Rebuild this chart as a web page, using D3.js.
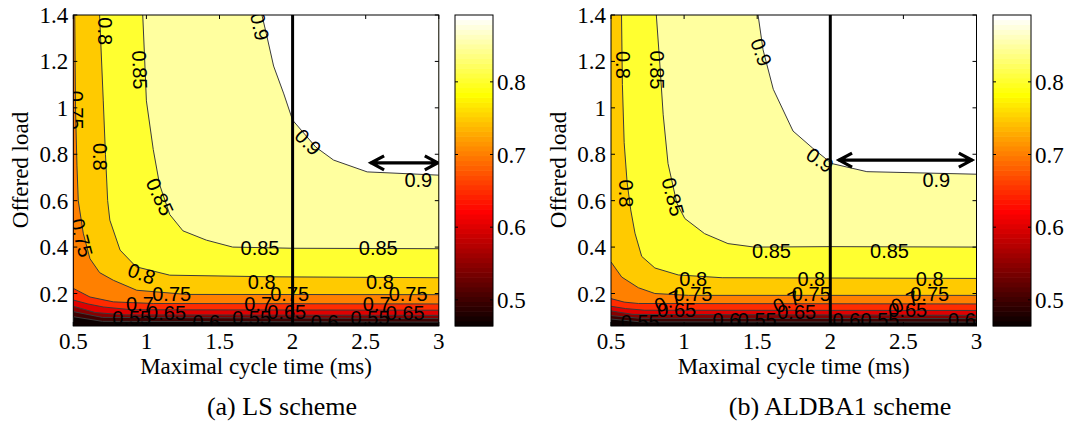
<!DOCTYPE html>
<html>
<head>
<meta charset="utf-8">
<script src="https://cdn.jsdelivr.net/npm/d3@7"></script>
<style>
  body { margin: 0; background: #fff; }
</style>
</head>
<body>
<svg id="chart" width="1069" height="425"></svg>
<script>
const xTicks = [0.5, 1, 1.5, 2, 2.5, 3];
const yTicks = [0.2, 0.4, 0.6, 0.8, 1, 1.2, 1.4];
const barTicks = [0.5, 0.6, 0.7, 0.8];
const levels = [0.5, 0.55, 0.6, 0.65, 0.7, 0.75, 0.8, 0.85, 0.9];
const colorRange = [0.464, 0.892];

// LS scheme: contour lines, [cycle time, offered load]
const ls50 = [[0.5, 0.1], [0.7, 0.08], [3, 0.077]];
const ls55 = [[0.5, 0.122], [0.7, 0.097], [3, 0.092]];
const ls60 = [[0.5, 0.145], [0.65, 0.118], [0.85, 0.108], [3, 0.106]];
const ls65 = [[0.5, 0.172], [0.6, 0.155], [0.705, 0.142], [0.9, 0.13], [3, 0.128]];
const ls70 = [[0.5, 0.222], [0.614, 0.185], [0.774, 0.164], [1.047, 0.157], [3, 0.155]];
const ls75 = [[0.51, 1.4], [0.515, 1.0], [0.525, 0.75], [0.534, 0.6], [0.568, 0.46], [0.614, 0.35],
  [0.68, 0.29], [0.774, 0.257], [0.934, 0.214], [1.276, 0.196], [3, 0.195]];
const ls80 = [[0.68, 1.4], [0.705, 1.03], [0.72, 0.8], [0.735, 0.6], [0.75, 0.516], [0.82, 0.387],
  [0.93, 0.315], [1.16, 0.279], [1.85, 0.272], [3, 0.268]];
const ls85 = [[0.975, 1.4], [0.99, 1.18], [1.0, 1.03], [1.047, 0.82], [1.09, 0.67], [1.16, 0.54],
  [1.25, 0.47], [1.41, 0.43], [1.59, 0.4], [2, 0.395], [3, 0.393]];
const ls90 = [[1.79, 1.4], [1.82, 1.32], [1.87, 1.18], [1.94, 1.06], [2.0, 0.947], [2.16, 0.83],
  [2.28, 0.775], [2.51, 0.724], [3, 0.71]];
const lsLines = [ls50, ls55, ls60, ls65, ls70, ls75, ls80, ls85, ls90];

// ALDBA1 scheme
const al50 = [[0.5, 0.09], [0.7, 0.078], [3, 0.077]];
const al55 = [[0.5, 0.105], [0.7, 0.093], [3, 0.092]];
const al60 = [[0.5, 0.125], [0.65, 0.11], [3, 0.106]];
const al65 = [[0.5, 0.145], [0.6, 0.135], [0.73, 0.128], [3, 0.127]];
const al70 = [[0.5, 0.178], [0.59, 0.163], [0.687, 0.157], [3, 0.155]];
const al75 = [[0.5, 0.336], [0.573, 0.271], [0.687, 0.225], [0.8, 0.2], [1.03, 0.192], [3, 0.192]];
const al80 = [[0.572, 1.4], [0.578, 1.1], [0.59, 0.85], [0.61, 0.68], [0.635, 0.56], [0.664, 0.46],
  [0.71, 0.36], [0.8, 0.31], [0.96, 0.28], [1.26, 0.268], [3, 0.265]];
const al85 = [[0.81, 1.4], [0.835, 1.18], [0.857, 0.97], [0.89, 0.76], [0.95, 0.59], [1.005, 0.523],
  [1.14, 0.458], [1.3, 0.415], [1.48, 0.4], [2, 0.402], [3, 0.4]];
const al90 = [[1.506, 1.4], [1.54, 1.25], [1.61, 1.08], [1.745, 0.9], [1.88, 0.826], [2.01, 0.76],
  [2.25, 0.725], [3, 0.714]];
const alLines = [al50, al55, al60, al65, al70, al75, al80, al85, al90];

// contour labels: text, x, y, rotation
const lsLabels = [
  ['0.8', 0.717, 1.33, 90], ['0.85', 0.956, 1.163, 88], ['0.9', 1.777, 1.35, 78],
  ['0.75', 0.518, 0.99, 90], ['0.9', 2.107, 0.853, 45], ['0.8', 0.683, 0.789, 90],
  ['0.85', 1.093, 0.617, 65], ['0.9', 2.86, 0.69, 0], ['0.75', 0.557, 0.44, 75],
  ['0.85', 1.777, 0.397, 0], ['0.85', 2.586, 0.397, 0], ['0.8', 0.968, 0.286, 20],
  ['0.8', 1.789, 0.25, 0], ['0.8', 2.598, 0.25, 0], ['0.75', 1.173, 0.2, 0],
  ['0.75', 1.98, 0.2, 0], ['0.75', 2.79, 0.2, 0], ['0.7', 0.956, 0.154, 0],
  ['0.7', 1.765, 0.154, 0], ['0.7', 2.575, 0.154, 0], ['0.65', 1.138, 0.118, 0],
  ['0.65', 1.96, 0.12, 0], ['0.65', 2.77, 0.118, 0], ['0.6', 1.41, 0.08, 0],
  ['0.6', 2.22, 0.08, 0], ['0.55', 0.9, 0.095, 0], ['0.55', 1.72, 0.095, 0],
  ['0.55', 2.53, 0.095, 0]
];
const alLabels = [
  ['0.8', 0.584, 1.185, 90], ['0.85', 0.816, 1.163, 90], ['0.9', 1.529, 1.24, 70],
  ['0.9', 1.93, 0.775, 35], ['0.8', 0.603, 0.631, 90], ['0.85', 0.925, 0.617, 75],
  ['0.9', 2.725, 0.688, 0], ['0.85', 1.598, 0.383, 0], ['0.85', 2.405, 0.383, 0],
  ['0.8', 1.062, 0.264, 0], ['0.8', 1.87, 0.264, 0], ['0.8', 2.68, 0.264, 0],
  ['0.75', 1.06, 0.2, 0], ['0.75', 1.87, 0.2, 0], ['0.75', 2.68, 0.2, 0],
  ['0.7', 0.89, 0.168, -25], ['0.7', 1.7, 0.165, -25], ['0.7', 2.51, 0.165, -25],
  ['0.65', 0.95, 0.128, 0], ['0.65', 1.77, 0.12, 0], ['0.65', 2.53, 0.128, 0],
  ['0.6', 1.29, 0.085, 0], ['0.6', 2.11, 0.085, 0], ['0.6', 2.9, 0.085, 0],
  ['0.55', 1.5, 0.085, 0], ['0.55', 2.34, 0.085, 0], ['0.55', 0.7, 0.08, 0]
];

// double arrows: from x, to x, at load
const lsArrow = [2.53, 3.0, 0.763];
const alArrow = [2.053, 2.975, 0.775];

const svg = d3.select('#chart');
const serif = 'Liberation Serif, Times New Roman, serif';
const sans = 'Liberation Sans, Arial, sans-serif';

// matlab "hot" colormap with 64 entries
function hot(v) {
  let i = Math.floor((v - colorRange[0]) / (colorRange[1] - colorRange[0]) * 64);
  i = Math.max(0, Math.min(63, i)) + 1;
  const r = Math.min(1, i / 24);
  const g = Math.max(0, Math.min(1, (i - 24) / 24));
  const b = Math.max(0, (i - 48) / 16);
  return d3.rgb(r * 255, g * 255, b * 255).toString();
}

function drawPanel(p) {
  const top = 15, bottom = 326;
  const x = d3.scaleLinear().domain([0.5, 3]).range([p.left, p.left + 365.5]);
  const y = d3.scaleLinear().domain([0.06, 1.4]).range([bottom, top]);
  const g = svg.append('g');

  g.append('clipPath').attr('id', p.id + 'clip')
    .append('rect')
    .attr('x', x(0.5)).attr('y', top)
    .attr('width', x(3) - x(0.5)).attr('height', bottom - top);

  const plot = g.append('g').attr('clip-path', `url(#${p.id}clip)`);
  const line = d3.line().x(d => x(d[0])).y(d => y(d[1]));

  plot.append('rect')
    .attr('x', x(0.5)).attr('y', top)
    .attr('width', x(3) - x(0.5)).attr('height', bottom - top)
    .attr('fill', hot(0.45));

  // filled regions above each contour
  plot.selectAll('path.fill').data(p.lines).join('path')
    .attr('class', 'fill')
    .attr('d', d => line(d.concat([[3, 1.4], [0.5, 1.4]])) + 'Z')
    .attr('fill', (d, i) => hot(levels[i]));

  plot.selectAll('path.iso').data(p.lines).join('path')
    .attr('class', 'iso')
    .attr('d', d => line(d))
    .attr('fill', 'none')
    .attr('stroke', '#3a3a3a')
    .attr('stroke-width', 1);

  plot.selectAll('text.lab').data(p.labels).join('text')
    .attr('class', 'lab')
    .attr('transform', d => `translate(${x(d[1])},${y(d[2])}) rotate(${d[3]})`)
    .attr('text-anchor', 'middle')
    .attr('dy', '0.36em')
    .style('font-family', sans)
    .style('font-size', '20px')
    .text(d => d[0]);

  // vertical marker at 2 ms
  plot.append('line')
    .attr('x1', x(2)).attr('x2', x(2))
    .attr('y1', top).attr('y2', bottom)
    .attr('stroke', '#000').attr('stroke-width', 3);

  // double arrow
  const ax1 = x(p.arrow[0]), ax2 = x(p.arrow[1]), ay = y(p.arrow[2]);
  plot.append('path')
    .attr('d', `M${ax1},${ay}H${ax2}` +
      `M${ax1 + 14},${ay - 7}L${ax1 + 1},${ay}L${ax1 + 14},${ay + 7}` +
      `M${ax2 - 14},${ay - 7}L${ax2 - 1},${ay}L${ax2 - 14},${ay + 7}`)
    .attr('fill', 'none')
    .attr('stroke', '#000')
    .attr('stroke-width', 3.2)
    .attr('stroke-linejoin', 'miter');

  // frame and inward ticks
  g.append('rect')
    .attr('x', x(0.5)).attr('y', top)
    .attr('width', x(3) - x(0.5)).attr('height', bottom - top)
    .attr('fill', 'none').attr('stroke', '#000').attr('stroke-width', 1);

  const tk = g.append('g').attr('stroke', '#000').attr('stroke-width', 1);
  xTicks.forEach(t => {
    tk.append('line').attr('x1', x(t)).attr('x2', x(t)).attr('y1', bottom).attr('y2', bottom - 4);
    tk.append('line').attr('x1', x(t)).attr('x2', x(t)).attr('y1', top).attr('y2', top + 4);
  });
  yTicks.forEach(t => {
    tk.append('line').attr('x1', x(0.5)).attr('x2', x(0.5) + 4).attr('y1', y(t)).attr('y2', y(t));
    tk.append('line').attr('x1', x(3)).attr('x2', x(3) - 4).attr('y1', y(t)).attr('y2', y(t));
  });

  g.selectAll('text.xt').data(xTicks).join('text')
    .attr('class', 'xt')
    .attr('x', d => x(d)).attr('y', 341).attr('dy', '0.35em')
    .attr('text-anchor', 'middle')
    .style('font-family', serif).style('font-size', '23px')
    .text(d => d);

  g.selectAll('text.yt').data(yTicks).join('text')
    .attr('class', 'yt')
    .attr('x', x(0.5) - 5).attr('y', d => y(d)).attr('dy', '0.35em')
    .attr('text-anchor', 'end')
    .style('font-family', serif).style('font-size', '23px')
    .text(d => d);

  g.append('text')
    .attr('x', (x(0.5) + x(3)) / 2).attr('y', 366).attr('dy', '0.35em')
    .attr('text-anchor', 'middle')
    .style('font-family', serif).style('font-size', '23px')
    .text('Maximal cycle time (ms)');

  g.append('text')
    .attr('transform', `translate(${p.left - 53},170) rotate(-90)`)
    .attr('dy', '0.35em')
    .attr('text-anchor', 'middle')
    .style('font-family', serif).style('font-size', '23px')
    .text('Offered load');

  g.append('text')
    .attr('x', p.captionX).attr('y', 406).attr('dy', '0.35em')
    .attr('text-anchor', 'middle')
    .style('font-family', serif).style('font-size', '26px')
    .text(p.caption);

  // colorbar
  const c = d3.scaleLinear().domain(colorRange).range([bottom, top]);
  const step = (colorRange[1] - colorRange[0]) / 64;
  const steps = d3.range(64).map(k => colorRange[0] + k * step);
  const cb = g.append('g');
  cb.selectAll('rect').data(steps).join('rect')
    .attr('x', p.barLeft).attr('width', 38)
    .attr('y', d => c(d + step) - 0.3)
    .attr('height', d => c(d) - c(d + step) + 0.6)
    .attr('fill', d => hot(d + step / 2));
  cb.append('rect')
    .attr('x', p.barLeft).attr('y', top).attr('width', 38).attr('height', bottom - top)
    .attr('fill', 'none').attr('stroke', '#000').attr('stroke-width', 1);
  barTicks.forEach(t => {
    cb.append('line').attr('x1', p.barLeft).attr('x2', p.barLeft + 3)
      .attr('y1', c(t)).attr('y2', c(t)).attr('stroke', '#000');
    cb.append('line').attr('x1', p.barLeft + 38).attr('x2', p.barLeft + 35)
      .attr('y1', c(t)).attr('y2', c(t)).attr('stroke', '#000');
  });
  cb.selectAll('text').data(barTicks).join('text')
    .attr('x', p.barLeft + 42).attr('y', d => c(d)).attr('dy', '0.35em')
    .style('font-family', serif).style('font-size', '23px')
    .text(d => d);
}

drawPanel({ id: 'ls', left: 73.3, barLeft: 455, lines: lsLines, labels: lsLabels,
  arrow: lsArrow, caption: '(a) LS scheme', captionX: 282 });
drawPanel({ id: 'al', left: 611, barLeft: 993, lines: alLines, labels: alLabels,
  arrow: alArrow, caption: '(b) ALDBA1 scheme', captionX: 840 });
</script>
</body>
</html>
